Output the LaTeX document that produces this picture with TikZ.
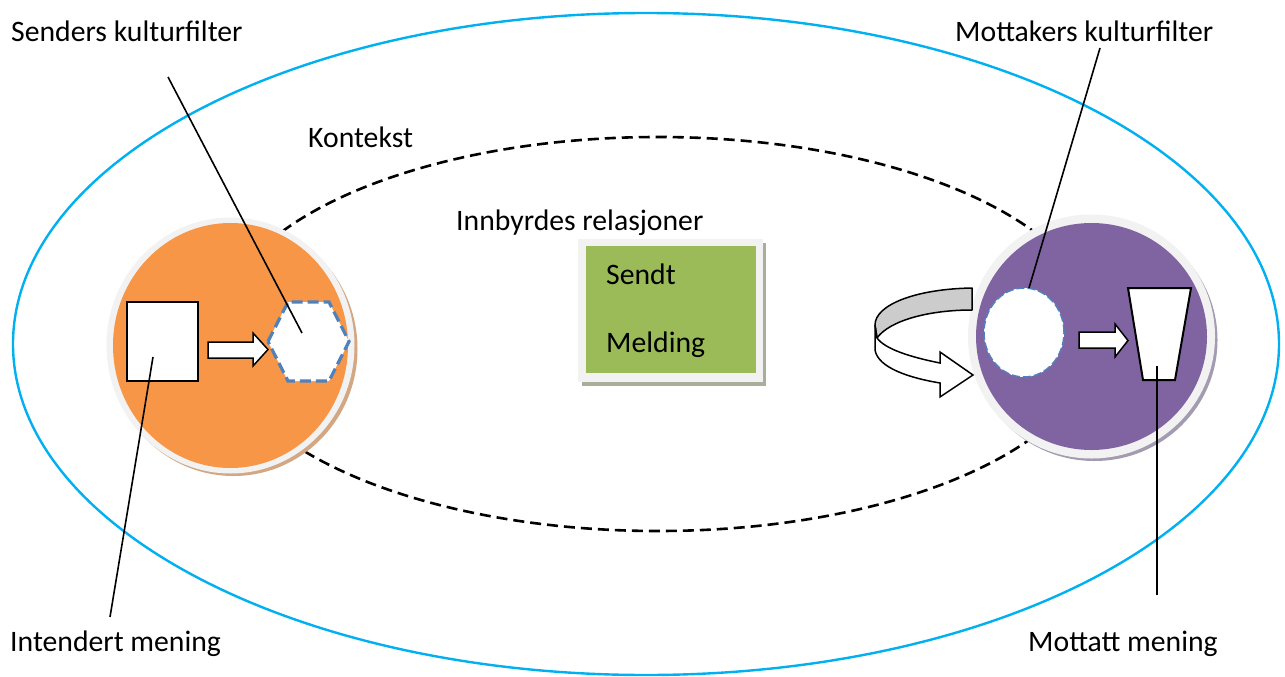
\documentclass[tikz,border=0pt]{standalone}
\usepackage{fontspec}
\setmainfont{Carlito}
\definecolor{skyline}{HTML}{00B0F0}
\definecolor{orfill}{HTML}{F79646}
\definecolor{orshade}{HTML}{D2A782}
\definecolor{pufill}{HTML}{8064A2}
\definecolor{pushade}{HTML}{A39CB0}
\definecolor{ringgray}{HTML}{F2F2F2}
\definecolor{grfill}{HTML}{9BBB59}
\definecolor{grshade}{HTML}{A9AE9A}
\definecolor{dashblue}{HTML}{4F81BD}
\definecolor{bandgray}{HTML}{CCCCCC}
\begin{document}
\begin{tikzpicture}[x=1pt,y=-1pt,
  lbl/.style={anchor=base west, inner sep=0pt, font=\fontsize{29.7}{34}\selectfont},
  leader/.style={black, line width=1.6pt},
  blockarrow/.style={fill=white, draw=black, line width=1.5pt, line join=miter},
  whiteshape/.style={fill=white, draw=black, line width=2pt},
  filterdash/.style={fill=white, draw=dashblue, line width=3.2pt, dash pattern=on 11pt off 5pt},
  circdash/.style={fill=white, draw=dashblue, line width=1.5pt, dash pattern=on 8pt off 3pt}]
\path[use as bounding box, fill=white] (0,0) rectangle (1285,677);

% outer context ellipse
\draw[skyline, line width=2.4pt] (646,344) ellipse [x radius=633pt, y radius=331pt];
% dashed relation ellipse
\draw[black, line width=2.6pt, dash pattern=on 11pt off 6pt] (658,334) ellipse [x radius=440pt, y radius=197pt];

% sender circle
\fill[orshade] (233.5,349) ellipse [x radius=124pt, y radius=127pt];
\fill[ringgray] (230.5,345.5) ellipse [x radius=124pt, y radius=128pt];
\fill[orfill] (230.5,345.5) ellipse [x radius=117.5pt, y radius=122.5pt];

% receiver circle
\fill[pushade] (1094.5,340) ellipse [x radius=123pt, y radius=121pt];
\fill[ringgray] (1091.5,336.5) ellipse [x radius=123.5pt, y radius=122pt];
\fill[pufill] (1091.5,336.5) ellipse [x radius=115.5pt, y radius=113.5pt];

% sender shapes
\draw[whiteshape] (127,302) rectangle (198,381);
\draw[blockarrow] (208,342) -- (253,342) -- (253,333) -- (268,349.5) -- (253,366) -- (253,358) -- (208,358) -- cycle;
\draw[filterdash] (268,341.5) -- (288,302) -- (329,302) -- (349,341.5) -- (329,381) -- (288,381) -- cycle;

% receiver shapes
\draw[circdash] (1024,332.5) ellipse [x radius=40pt, y radius=44.5pt];
\draw[blockarrow] (1079,332) -- (1115,332) -- (1115,324) -- (1128,340.5) -- (1115,357) -- (1115,348) -- (1079,348) -- cycle;
\draw[whiteshape, line join=miter] (1128,288) -- (1191,288) -- (1175,380) -- (1143,380) -- cycle;

% curved ribbon arrow
\filldraw[fill=bandgray, draw=black, line width=1.5pt, line join=round]
  (972,288) .. controls (915,289) and (875,305) .. (875,325)
  -- (877,338) .. controls (890,320) and (930,310) .. (972,310) -- cycle;
\filldraw[fill=white, draw=black, line width=1.5pt, line join=miter]
  (875,325) -- (875,350) .. controls (878,368) and (910,378) .. (940,383)
  -- (940,397) -- (973,375) -- (940,352) -- (940,363)
  .. controls (910,357) and (885,349) .. (877,338) -- cycle;

% message box
\fill[grshade] (582,243) rectangle (766,386);
\fill[ringgray] (578,239) rectangle (763,382);
\fill[grfill] (586,246) rectangle (756,373);
\node[lbl] (sendt) at (606,284) {Sendt};
\node[lbl] (melding) at (606,352) {Melding};

% labels
\node[lbl] (senders) at (11,42) {Senders kulturfilter};
\node[lbl] (mottakers) at (955,42) {Mottakers kulturfilter};
\node[lbl] (kontekst) at (308,147) {Kontekst};
\node[lbl] (innbyrdes) at (456,230) {Innbyrdes relasjoner};
\node[lbl] (intendert) at (10,651) {Intendert mening};
\node[lbl] (mottatt) at (1028,651) {Mottatt mening};

% leader lines
\coordinate (sl1) at (168,77);  \coordinate (sl2) at (302,333);
\coordinate (il1) at (110,617); \coordinate (il2) at (153,357);
\coordinate (ml1) at (1100,48); \coordinate (ml2) at (1029,288);
\coordinate (tl1) at (1157,595); \coordinate (tl2) at (1157,366);
\draw[leader] (sl1) -- (sl2);
\draw[leader] (il1) -- (il2);
\draw[leader] (ml1) -- (ml2);
\draw[leader] (tl1) -- (tl2);
\end{tikzpicture}
\end{document}
